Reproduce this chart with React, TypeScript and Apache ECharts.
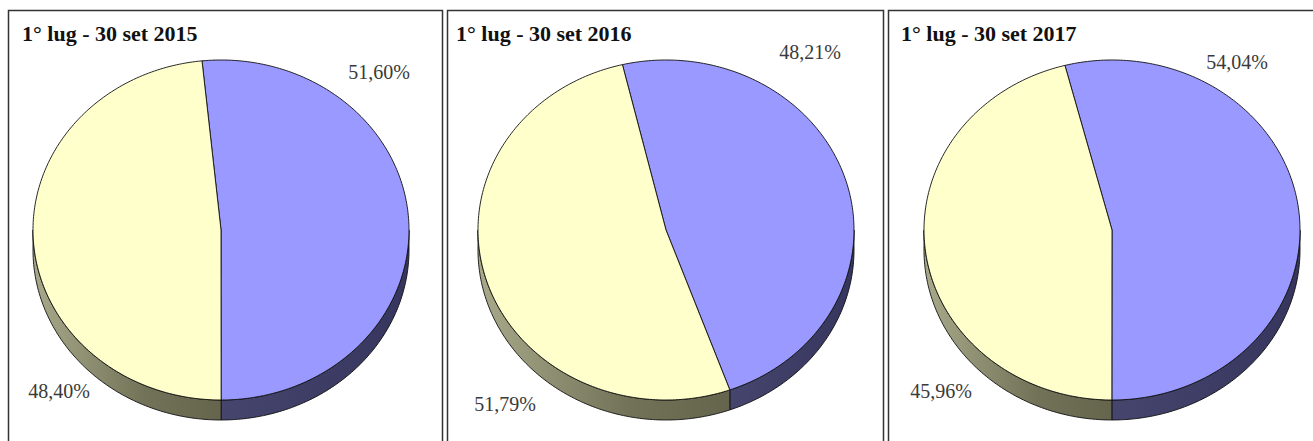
import React, { useEffect, useRef } from "react";
import * as echarts from "echarts";

// ---- data ----
const periods = ["1° lug - 30 set 2015", "1° lug - 30 set 2016", "1° lug - 30 set 2017"];
const blueShare = [51.6, 48.21, 54.04];
const yellowShare = [48.4, 51.79, 45.96];

// ---- layout ----
const panelX = [8, 447, 888];
const panelW = [434, 436, 440];
const titleX = [22, 456, 901];
const centersX = [221, 666, 1112];
const CY = 230;
const RX = 188;
const RY = 170;
const DEPTH = 20;
const rotation = [-5.8, -13.4, -14.5]; // start angle of first (blue) slice, degrees clockwise from top
const labelPos = [
  [[379, 72], [59, 391]],
  [[810, 52], [505, 404]],
  [[1237, 62], [941, 391]],
];
const topColors = ["#9999FF", "#FFFFCC"];

function sliceAngles(p: number, s: number): [number, number] {
  const vals = [blueShare[p], yellowShare[p]];
  const total = vals[0] + vals[1];
  let a = rotation[p];
  for (let i = 0; i < s; i++) a += (vals[i] / total) * 360;
  return [a, a + (vals[s] / total) * 360];
}

function pt(cx: number, t: number, dy = 0): number[] {
  const r = (t * Math.PI) / 180;
  return [cx + RX * Math.sin(r), CY - RY * Math.cos(r) + dy];
}

function arc(cx: number, a: number, b: number, dy = 0): number[][] {
  const pts: number[][] = [];
  const n = Math.max(2, Math.ceil(Math.abs(b - a)));
  for (let i = 0; i <= n; i++) pts.push(pt(cx, a + ((b - a) * i) / n, dy));
  return pts;
}

const dataItems: number[][] = [];
for (let p = 0; p < periods.length; p++) for (let s = 0; s < 2; s++) dataItems.push([p, s]);

export default function App() {
  const ref = useRef<HTMLDivElement>(null);
  useEffect(() => {
    if (!ref.current) return;
    const chart = echarts.init(ref.current, null, { renderer: "svg" });

    const sideRender = (params: any, api: any) => {
      const p = api.value(0);
      const s = api.value(1);
      const cx = centersX[p];
      const [t1, t2] = sliceAngles(p, s);
      const children: any[] = [];
      for (let k = -1; k <= 1; k++) {
        const a = Math.max(t1, 90 + 360 * k);
        const b = Math.min(t2, 270 + 360 * k);
        if (b > a) {
          const top = arc(cx, a, b, 0);
          const bottom = arc(cx, b, a, DEPTH);
          const fill =
            s === 0
              ? new echarts.graphic.LinearGradient(0, 0, 1, 0, [
                  { offset: 0, color: "#45456e" },
                  { offset: 1, color: "#35355e" },
                ])
              : new echarts.graphic.LinearGradient(0, 0, 1, 0, [
                  { offset: 0, color: "#a9a98a" },
                  { offset: 0.6, color: "#727258" },
                  { offset: 1, color: "#65654d" },
                ]);
          children.push({
            type: "polygon",
            shape: { points: top.concat(bottom) },
            style: { fill, stroke: "#111", lineWidth: 0.9 },
          });
        }
      }
      return { type: "group", children };
    };

    const topRender = (params: any, api: any) => {
      const p = api.value(0);
      const s = api.value(1);
      const cx = centersX[p];
      const [t1, t2] = sliceAngles(p, s);
      const pts = [[cx, CY]].concat(arc(cx, t1, t2, 0));
      const val = s === 0 ? blueShare[p] : yellowShare[p];
      const [lx, ly] = labelPos[p][s];
      return {
        type: "group",
        children: [
          {
            type: "polygon",
            shape: { points: pts },
            style: { fill: topColors[s], stroke: "#111", lineWidth: 0.9 },
          },
          {
            type: "text",
            style: {
              text: val.toFixed(2).replace(".", ",") + "%",
              x: lx,
              y: ly,
              align: "center",
              verticalAlign: "middle",
              fill: "#3a3a3a",
              font: "20px 'Liberation Serif', serif",
            },
          },
        ],
      };
    };

    const graphics: any[] = [];
    for (let p = 0; p < periods.length; p++) {
      graphics.push({
        type: "rect",
        shape: { x: panelX[p] + 0.5, y: 10.5, width: panelW[p], height: 460 },
        style: { fill: "#fff", stroke: "#333", lineWidth: 1.5 },
        z: -10,
      });
      graphics.push({
        type: "text",
        x: titleX[p],
        y: 33,
        style: {
          text: periods[p],
          fill: "#111",
          font: "bold 22px 'Liberation Serif', serif",
          verticalAlign: "middle",
        },
        z: 10,
      });
    }

    chart.setOption({
      animation: false,
      backgroundColor: "#fff",
      graphic: graphics,
      series: [
        {
          type: "custom",
          coordinateSystem: "none",
          renderItem: sideRender,
          data: dataItems,
          z: 2,
          silent: true,
        },
        {
          type: "custom",
          coordinateSystem: "none",
          renderItem: topRender,
          data: dataItems,
          z: 3,
          silent: true,
        },
      ],
    });
    return () => chart.dispose();
  }, []);
  return (
    <div
      ref={ref}
      style={{ position: "fixed", left: 0, top: 0, width: 1313, height: 441 }}
    />
  );
}
